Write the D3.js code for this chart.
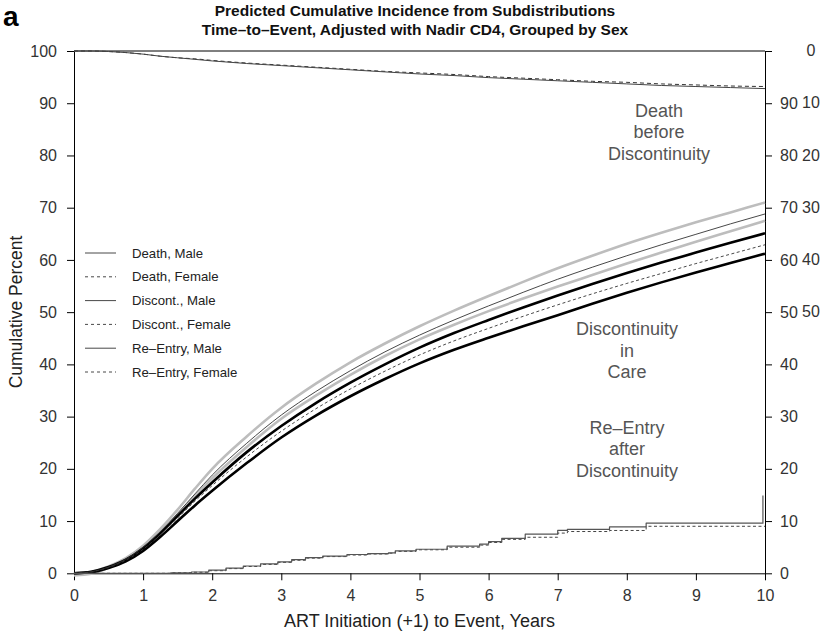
<!DOCTYPE html>
<html><head><meta charset="utf-8">
<script src="https://cdnjs.cloudflare.com/ajax/libs/d3/7.8.5/d3.min.js"></script>
<style>
body{margin:0;background:#fff;}
text{font-family:"Liberation Sans",Arial,Helvetica,sans-serif;}
</style></head>
<body><svg id="c" width="823" height="636"></svg>
<script>
// ---------- data ----------
const years = [0,0.25,0.5,0.75,1,1.25,1.5,1.75,2,2.5,3,3.5,4,4.5,5,5.5,6,6.5,7,7.5,8,8.5,9,9.5,10];
const deathMale   = [100,100,99.9,99.7,99.4,99.0,98.7,98.4,98.1,97.6,97.2,96.8,96.4,96.0,95.6,95.3,94.9,94.6,94.3,94.0,93.7,93.4,93.2,93.0,92.8];
const deathFemale = [100,100,99.9,99.7,99.4,99.0,98.7,98.5,98.2,97.7,97.3,96.9,96.5,96.1,95.8,95.5,95.1,94.8,94.5,94.2,94.0,93.7,93.5,93.3,93.2];
const discMale      = [0,0.3,1.2,2.7,5.0,8.0,11.5,15.2,18.8,24.9,30.3,34.8,38.8,42.4,45.6,48.5,51.2,53.8,56.3,58.6,60.8,62.9,64.9,66.9,68.8];
const discMaleUpper = [0,0.3,1.3,2.9,5.3,8.5,12.2,16.2,20.0,26.2,31.7,36.3,40.4,44.0,47.3,50.3,53.1,55.8,58.4,60.8,63.1,65.2,67.2,69.1,71.0];
const discMaleLower = [-0.4,-0.1,1.1,2.5,4.8,7.8,11.2,14.8,18.2,24.2,29.6,34.0,38.0,41.6,44.8,47.6,50.2,52.6,54.9,57.1,59.3,61.4,63.5,65.5,67.5];
const discFemale      = [0,0.3,1.1,2.5,4.6,7.4,10.6,13.8,16.8,22.3,27.2,31.5,35.3,38.7,41.8,44.5,46.9,49.2,51.4,53.5,55.5,57.4,59.3,61.1,62.9];
const discFemaleUpper = [0,0.3,1.2,2.6,4.8,7.7,11.0,14.3,17.4,23.2,28.2,32.6,36.5,40.0,43.2,46.0,48.5,50.9,53.2,55.4,57.5,59.5,61.4,63.3,65.1];
const discFemaleLower = [0,0.2,1.0,2.3,4.3,7.0,10.0,13.0,15.8,21.1,26.0,30.2,33.9,37.2,40.2,42.8,45.1,47.3,49.4,51.6,53.7,55.7,57.6,59.4,61.2];
const reentryMaleX = [0,1.0,1.4,1.7,1.95,2.2,2.45,2.7,2.95,3.15,3.35,3.6,3.95,4.25,4.55,4.65,4.95,5.4,5.87,6.0,6.19,6.53,7.0,7.14,7.75,8.28,9.97,9.97];
const reentryMaleY = [0,0,0.1,0.25,0.6,1.0,1.4,1.8,2.2,2.6,3.0,3.3,3.6,3.75,3.9,4.3,4.6,5.2,5.6,6.05,6.7,7.5,8.2,8.4,8.9,9.6,9.6,14.9];
const reentryFemaleX = [0,1.0,1.4,1.7,1.95,2.2,2.45,2.7,2.95,3.15,3.35,3.6,3.95,4.25,4.55,4.65,4.95,5.4,5.87,6.0,6.19,6.53,7.0,7.14,7.75,8.28,10];
const reentryFemaleY = [0,0,0.1,0.2,0.5,0.9,1.3,1.7,2.1,2.5,2.9,3.2,3.5,3.7,3.85,4.2,4.5,5.0,5.4,5.9,6.5,6.9,7.7,8.0,8.2,9.0,9.0];
const xTicks = [0,1,2,3,4,5,6,7,8,9,10];
const yTicks = [0,10,20,30,40,50,60,70,80,90,100];
const rightInnerTicks = [0,10,20,30,40,50,60,70,80,90];
const rightOuterTicks = [100,90,80,70,60,50];
const rightOuterLabels = ["0","10","20","30","40","50"];
const legendLabels = ["Death, Male","Death, Female","Discont., Male","Discont., Female","Re\u2013Entry, Male","Re\u2013Entry, Female"];
const legendDashed = [false,true,false,true,false,true];
const titleLines = ["Predicted Cumulative Incidence from Subdistributions","Time\u2013to\u2013Event, Adjusted with Nadir CD4, Grouped by Sex"];
const annotDeath = ["Death","before","Discontinuity"];
const annotDisc = ["Discontinuity","in","Care"];
const annotRe = ["Re\u2013Entry","after","Discontinuity"];

// ---------- chart ----------
const svg = d3.select("#c");
const x = d3.scaleLinear().domain([0,10]).range([74,765]);
const y = d3.scaleLinear().domain([0,100]).range([573.3,51]);

svg.append("text").attr("x",3).attr("y",26).attr("font-size",28).attr("font-weight","bold").text("a");
svg.selectAll(".title").data(titleLines).join("text")
  .attr("x",415).attr("y",(d,i)=>16+i*18.5).attr("text-anchor","middle")
  .attr("font-size",15.5).attr("font-weight","bold").attr("fill","#111").text(d=>d);

function styleAxis(g){
  g.selectAll("path.domain").attr("stroke","#000").attr("stroke-width",1);
  g.selectAll(".tick line").attr("stroke","#000").attr("stroke-width",1);
  g.selectAll(".tick text").attr("fill","#333").attr("font-size",16)
   .attr("font-family","'Liberation Sans',Arial,sans-serif");
}
svg.append("g").attr("transform",`translate(${x(0)},0)`)
  .call(d3.axisLeft(y).tickValues(yTicks).tickSize(7).tickSizeOuter(0).tickPadding(10)).call(styleAxis);
svg.append("g").attr("transform",`translate(0,${y(0)})`)
  .call(d3.axisBottom(x).tickValues(xTicks).tickSize(7).tickSizeOuter(0).tickPadding(9)).call(styleAxis);
const ra = svg.append("g").attr("transform",`translate(${x(10)},0)`)
  .call(d3.axisRight(y).tickValues(yTicks).tickSize(7).tickSizeOuter(0).tickPadding(8)
    .tickFormat(d=>rightInnerTicks.includes(d)?String(d):"")).call(styleAxis);
ra.selectAll(".outer").data(rightOuterTicks).join("text").attr("class","outer")
  .attr("x",46).attr("y",d=>y(d)).attr("dy","0.32em").attr("text-anchor","middle")
  .attr("fill","#333").attr("font-size",16).text((d,i)=>rightOuterLabels[i]);
// top frame line
svg.append("line").attr("x1",x(0)).attr("x2",x(10)).attr("y1",y(100)).attr("y2",y(100))
  .attr("stroke","#000").attr("stroke-width",1);

svg.append("text").attr("x",419.5).attr("y",627).attr("text-anchor","middle")
  .attr("font-size",18).attr("fill","#222").text("ART Initiation (+1) to Event, Years");
svg.append("text").attr("transform","translate(22,312) rotate(-90)").attr("text-anchor","middle")
  .attr("font-size",17.5).attr("fill","#222").text("Cumulative Percent");

const line = d3.line().x(d=>x(d[0])).y(d=>y(d[1])).curve(d3.curveMonotoneX);
const step = d3.line().x(d=>x(d[0])).y(d=>y(d[1])).curve(d3.curveStepAfter);
const zipY = arr => years.map((t,i)=>[t,arr[i]]);
const plot = svg.append("g");
function draw(gen,data,color,w,dash){
  plot.append("path").attr("d",gen(data)).attr("fill","none").attr("stroke",color)
    .attr("stroke-width",w).attr("stroke-dasharray",dash||null).attr("stroke-linejoin","round");
}
// confidence bands
draw(line,zipY(discMaleUpper),"#bdbdbd",2.6);
draw(line,zipY(discMaleLower),"#bdbdbd",2.6);
draw(line,zipY(discFemaleUpper),"#000",2.6);
draw(line,zipY(discFemaleLower),"#000",2.6);
// estimates
draw(line,zipY(discMale),"#333",0.9);
draw(line,zipY(discFemale),"#333",0.9,"3,2.5");
draw(line,zipY(deathFemale),"#333",1,"4,3");
draw(line,zipY(deathMale),"#444",1);
draw(step,reentryFemaleX.map((t,i)=>[t,reentryFemaleY[i]]),"#444",1,"3,2.5");
draw(step,reentryMaleX.map((t,i)=>[t,reentryMaleY[i]]),"#555",1.2);

// legend
const lg = svg.append("g");
legendLabels.forEach((lab,i)=>{
  const yy = 253 + i*23.8;
  lg.append("line").attr("x1",85).attr("x2",116).attr("y1",yy).attr("y2",yy)
    .attr("stroke","#333").attr("stroke-width",0.9).attr("stroke-dasharray",legendDashed[i]?"3,3":null);
  lg.append("text").attr("x",132).attr("y",yy).attr("dy","0.35em").attr("font-size",13.2)
    .attr("fill","#222").text(lab);
});

// annotations
function annot(lines,cx,by){
  svg.append("g").selectAll("text").data(lines).join("text")
    .attr("x",cx).attr("y",(d,i)=>by+i*21.5).attr("text-anchor","middle")
    .attr("font-size",18).attr("fill","#555").text(d=>d);
}
annot(annotDeath,659,116.5);
annot(annotDisc,627,335);
annot(annotRe,627,433.5);
</script></body></html>
